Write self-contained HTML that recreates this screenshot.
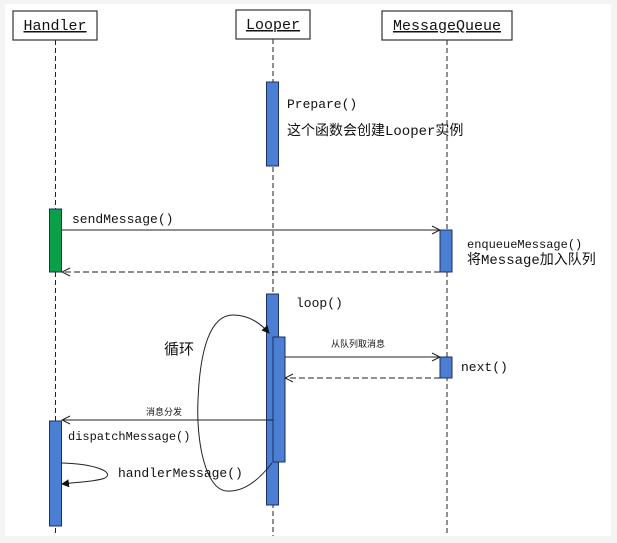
<!DOCTYPE html>
<html><head><meta charset="utf-8"><style>
body{margin:0;background:#f4f4f4;}
svg{display:block}
text{font-family:"Liberation Mono","Noto Sans CJK SC",monospace;fill:#111}
</style></head><body>
<svg width="617" height="543" viewBox="0 0 617 543" xmlns="http://www.w3.org/2000/svg">
<rect x="5" y="4" width="606" height="532" fill="#fff"/>
<defs>
<marker id="a" markerWidth="10" markerHeight="10" refX="9" refY="5" orient="auto" markerUnits="userSpaceOnUse"><path d="M1,1 L9,5 L1,9" fill="none" stroke="#222" stroke-width="1"/></marker>
<marker id="f" markerWidth="8" markerHeight="8" refX="7" refY="4" orient="auto" markerUnits="userSpaceOnUse"><path d="M0,0 L8,4 L0,8 z" fill="#111"/></marker>
</defs>
<g stroke="#222" stroke-width="1" stroke-dasharray="5,3">
<line x1="55.5" y1="40" x2="55.5" y2="536"/>
<line x1="273" y1="39" x2="273" y2="536"/>
<line x1="447" y1="40" x2="447" y2="536"/>
</g>
<g fill="#fff" stroke="#333" stroke-width="1.2">
<rect x="13" y="11" width="84" height="29"/>
<rect x="236" y="10" width="74" height="29"/>
<rect x="382" y="11" width="130" height="29"/>
</g>
<g font-size="15">
<text x="55" y="30" text-anchor="middle" text-decoration="underline">Handler</text>
<text x="273" y="29" text-anchor="middle" text-decoration="underline">Looper</text>
<text x="447" y="30" text-anchor="middle" text-decoration="underline">MessageQueue</text>
</g>
<g stroke="#1f2f60" stroke-width="1">
<rect x="266.5" y="82" width="12" height="84" fill="#4a7fd4"/>
<rect x="49.5" y="209" width="12" height="63" fill="#0aa04a"/>
<rect x="440" y="230" width="12" height="42" fill="#4a7fd4"/>
<rect x="266.5" y="294" width="12" height="211" fill="#4a7fd4"/>
<rect x="273" y="337" width="12" height="125" fill="#4a7fd4"/>
<rect x="440" y="357" width="12" height="21" fill="#4a7fd4"/>
<rect x="49.5" y="421" width="12" height="105" fill="#4a7fd4"/>
</g>
<g stroke="#222" stroke-width="1" fill="none">
<line x1="62" y1="230" x2="440" y2="230" marker-end="url(#a)"/>
<line x1="440" y1="272" x2="62" y2="272" stroke-dasharray="6,3" marker-end="url(#a)"/>
<line x1="285" y1="357" x2="440" y2="357" marker-end="url(#a)"/>
<line x1="440" y1="378" x2="285" y2="378" stroke-dasharray="6,3" marker-end="url(#a)"/>
<line x1="273" y1="420" x2="62" y2="420" marker-end="url(#a)"/>
<path d="M62,463 C95,464 115,472 105,478 C98,481 80,482 62,484" marker-end="url(#f)"/>
<path d="M272,463 C255,485 240,492 227,491 C205,490 196,440 198,400 C200,350 210,315 233,315 C250,315 262,325 269,333" marker-end="url(#f)"/>
</g>
<g font-size="13">
<text x="287" y="108">Prepare()</text>
<text x="287" y="135" font-size="14">这个函数会创建Looper实例</text>
<text x="72" y="223">sendMessage()</text>
<text x="467" y="248" font-family="Liberation Sans,sans-serif" font-size="12">enqueueMessage()</text>
<text x="467" y="264" font-size="14">将Message加入队列</text>
<text x="296" y="307">loop()</text>
<text x="461" y="371">next()</text>
<text x="68" y="440" font-family="Liberation Sans,sans-serif" font-size="12">dispatchMessage()</text>
<text x="118" y="477">handlerMessage()</text>
<text x="164" y="354" font-size="15" font-family="Noto Sans CJK SC,sans-serif">循环</text>
<text x="331" y="347" font-size="9" font-family="Noto Sans CJK SC,sans-serif">从队列取消息</text>
<text x="146" y="415" font-size="9" font-family="Noto Sans CJK SC,sans-serif">消息分发</text>
</g>
</svg>
</body></html>
